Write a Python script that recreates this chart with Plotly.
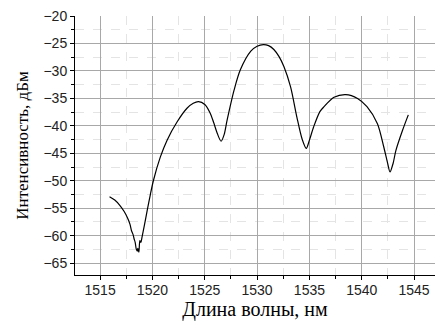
import plotly.graph_objects as go

# длина волны, нм
wavelength = [1515.9, 1516.4, 1516.9, 1517.3, 1517.6, 1517.85, 1518.0, 1518.15, 1518.25,
              1518.35, 1518.45, 1518.55, 1518.6, 1518.7, 1518.8, 1518.9, 1519.0, 1519.2,
              1519.5, 1519.8, 1520.1, 1520.75, 1521.4, 1522.35, 1523.3, 1523.9, 1524.4,
              1525.0, 1525.5, 1525.85, 1526.2, 1526.56, 1526.85, 1527.13, 1527.8, 1528.4,
              1529.4, 1530.0, 1530.6, 1531.1, 1531.6, 1532.1, 1532.56, 1533.2, 1533.8,
              1534.3, 1534.7, 1535.0, 1535.4, 1536.0, 1536.4, 1537.35, 1538.47, 1539.6,
              1540.5, 1541.5, 1542.1, 1542.45, 1542.7, 1543.0, 1543.26, 1543.9, 1544.45]
# интенсивность, дБм
intensity = [-52.9, -53.5, -54.5, -55.6, -56.7, -57.9, -59.1, -59.8, -60.6,
             -61.2, -62.4, -62.8, -62.3, -63.0, -60.9, -61.2, -60.3, -58.4,
             -55.4, -52.5, -49.9, -45.7, -42.6, -39.3, -36.8, -35.9, -35.6,
             -36.1, -37.6, -39.4, -41.4, -42.8, -41.6, -39.0, -33.5, -29.8,
             -26.4, -25.5, -25.2, -25.4, -26.1, -27.4, -29.2, -32.9, -38.4,
             -42.4, -44.1, -42.6, -40.2, -37.4, -36.5, -34.8, -34.3, -35.0,
             -36.5, -39.6, -43.8, -46.6, -48.4, -46.8, -44.5, -40.8, -38.0]

x_ticks = [1515, 1520, 1525, 1530, 1535, 1540, 1545]
y_ticks = [-20, -25, -30, -35, -40, -45, -50, -55, -60, -65]

fig = go.Figure()
fig.add_trace(go.Scatter(x=wavelength, y=intensity, mode="lines",
                         line=dict(color="black", width=1.2, shape="spline", smoothing=0.8),
                         showlegend=False))

grid = dict(showgrid=True, gridcolor="#a8a8a8", gridwidth=1.2,
            showline=True, linecolor="black", linewidth=1,
            ticks="outside", ticklen=4, tickcolor="black", zeroline=False,
            tickfont=dict(family="Liberation Sans, Arial", size=14, color="#222"),
            minor=dict(dtick=2.5, showgrid=True, gridcolor="#e4e4e4", griddash="dash",
                       gridwidth=1, ticks="outside", ticklen=3, tickcolor="black"))

fig.update_xaxes(range=[1512.6, 1547], tickvals=x_ticks, ticklabelstandoff=-2,
                 title=dict(text="Длина волны, нм", standoff=1,
                            font=dict(family="Liberation Serif, Times New Roman", size=20, color="black")),
                 **grid)
fig.update_yaxes(range=[-67.15, -20], tickvals=y_ticks,
                 title=dict(text="Интенсивность, дБм", standoff=10,
                            font=dict(family="Liberation Serif, Times New Roman", size=17, color="black")),
                 **grid)
fig.update_layout(width=439, height=329, margin=dict(l=75, r=4, t=16, b=54),
                  plot_bgcolor="white", paper_bgcolor="white")
# убрать отступ страницы, чтобы фигура заняла всё окно
fig.write_html("out.html", config={"displayModeBar": False},
               post_script="document.body.style.margin='0';")
